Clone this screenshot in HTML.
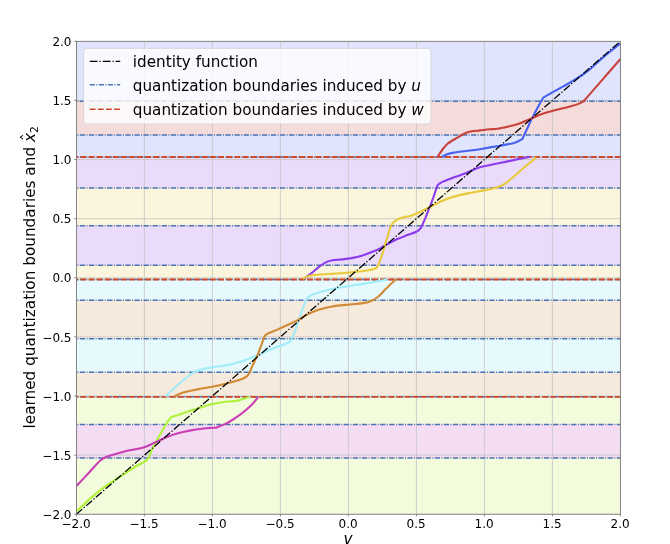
<!DOCTYPE html>
<html lang="en"><head><meta charset="utf-8"><title>quantization boundaries</title>
<style>html,body{margin:0;padding:0;background:#fff}svg{display:block}text{font-family:"DejaVu Sans","Liberation Sans",sans-serif;fill:#000}</style></head><body>
<svg width="670" height="544" viewBox="0 0 670 544">
<rect width="670" height="544" fill="#fff"/>
<defs><clipPath id="c"><rect x="76.4" y="41.3" width="544.0" height="472.95"/></clipPath></defs>
<g clip-path="url(#c)">
<rect x="76.4" y="41.30" width="544.0" height="59.83" fill="#e0e4fc"/>
<rect x="76.4" y="101.13" width="544.0" height="33.82" fill="#f4dcdc"/>
<rect x="76.4" y="134.94" width="544.0" height="21.99" fill="#e0e4fc"/>
<rect x="76.4" y="156.94" width="544.0" height="30.98" fill="#eadbfb"/>
<rect x="76.4" y="187.91" width="544.0" height="37.84" fill="#faf5dc"/>
<rect x="76.4" y="225.75" width="544.0" height="39.61" fill="#eadbfb"/>
<rect x="76.4" y="265.36" width="544.0" height="14.07" fill="#faf5dc"/>
<rect x="76.4" y="279.43" width="544.0" height="20.81" fill="#e6fafe"/>
<rect x="76.4" y="300.24" width="544.0" height="38.55" fill="#f6eadc"/>
<rect x="76.4" y="338.79" width="544.0" height="33.58" fill="#e6fafe"/>
<rect x="76.4" y="372.37" width="544.0" height="24.48" fill="#f6eadc"/>
<rect x="76.4" y="396.84" width="544.0" height="27.55" fill="#f2fcdc"/>
<rect x="76.4" y="424.39" width="544.0" height="33.70" fill="#f4dcf2"/>
<rect x="76.4" y="458.09" width="544.0" height="56.16" fill="#f2fcdc"/>
<line x1="76.40" x2="76.40" y1="41.3" y2="514.25" stroke="#c4c4c4" stroke-width="0.8"/>
<line y1="514.25" y2="514.25" x1="76.4" x2="620.4" stroke="#c4c4c4" stroke-width="0.8"/>
<line x1="144.40" x2="144.40" y1="41.3" y2="514.25" stroke="#c4c4c4" stroke-width="0.8"/>
<line y1="455.13" y2="455.13" x1="76.4" x2="620.4" stroke="#c4c4c4" stroke-width="0.8"/>
<line x1="212.40" x2="212.40" y1="41.3" y2="514.25" stroke="#c4c4c4" stroke-width="0.8"/>
<line y1="396.01" y2="396.01" x1="76.4" x2="620.4" stroke="#c4c4c4" stroke-width="0.8"/>
<line x1="280.40" x2="280.40" y1="41.3" y2="514.25" stroke="#c4c4c4" stroke-width="0.8"/>
<line y1="336.89" y2="336.89" x1="76.4" x2="620.4" stroke="#c4c4c4" stroke-width="0.8"/>
<line x1="348.40" x2="348.40" y1="41.3" y2="514.25" stroke="#c4c4c4" stroke-width="0.8"/>
<line y1="277.77" y2="277.77" x1="76.4" x2="620.4" stroke="#c4c4c4" stroke-width="0.8"/>
<line x1="416.40" x2="416.40" y1="41.3" y2="514.25" stroke="#c4c4c4" stroke-width="0.8"/>
<line y1="218.66" y2="218.66" x1="76.4" x2="620.4" stroke="#c4c4c4" stroke-width="0.8"/>
<line x1="484.40" x2="484.40" y1="41.3" y2="514.25" stroke="#c4c4c4" stroke-width="0.8"/>
<line y1="159.54" y2="159.54" x1="76.4" x2="620.4" stroke="#c4c4c4" stroke-width="0.8"/>
<line x1="552.40" x2="552.40" y1="41.3" y2="514.25" stroke="#c4c4c4" stroke-width="0.8"/>
<line y1="100.42" y2="100.42" x1="76.4" x2="620.4" stroke="#c4c4c4" stroke-width="0.8"/>
<line x1="620.40" x2="620.40" y1="41.3" y2="514.25" stroke="#c4c4c4" stroke-width="0.8"/>
<line y1="41.30" y2="41.30" x1="76.4" x2="620.4" stroke="#c4c4c4" stroke-width="0.8"/>
<line x1="76.4" x2="620.4" y1="101.13" y2="101.13" stroke="#4c72b0" stroke-width="1.5" stroke-dasharray="5.3 1.4 1.0 1.4" stroke-dashoffset="5.7"/>
<line x1="76.4" x2="620.4" y1="134.94" y2="134.94" stroke="#4c72b0" stroke-width="1.5" stroke-dasharray="5.3 1.4 1.0 1.4" stroke-dashoffset="5.7"/>
<line x1="76.4" x2="620.4" y1="156.94" y2="156.94" stroke="#4c72b0" stroke-width="1.5" stroke-dasharray="5.3 1.4 1.0 1.4" stroke-dashoffset="5.7"/>
<line x1="76.4" x2="620.4" y1="187.91" y2="187.91" stroke="#4c72b0" stroke-width="1.5" stroke-dasharray="5.3 1.4 1.0 1.4" stroke-dashoffset="5.7"/>
<line x1="76.4" x2="620.4" y1="225.75" y2="225.75" stroke="#4c72b0" stroke-width="1.5" stroke-dasharray="5.3 1.4 1.0 1.4" stroke-dashoffset="5.7"/>
<line x1="76.4" x2="620.4" y1="265.36" y2="265.36" stroke="#4c72b0" stroke-width="1.5" stroke-dasharray="5.3 1.4 1.0 1.4" stroke-dashoffset="5.7"/>
<line x1="76.4" x2="620.4" y1="279.43" y2="279.43" stroke="#4c72b0" stroke-width="1.5" stroke-dasharray="5.3 1.4 1.0 1.4" stroke-dashoffset="5.7"/>
<line x1="76.4" x2="620.4" y1="300.24" y2="300.24" stroke="#4c72b0" stroke-width="1.5" stroke-dasharray="5.3 1.4 1.0 1.4" stroke-dashoffset="5.7"/>
<line x1="76.4" x2="620.4" y1="338.79" y2="338.79" stroke="#4c72b0" stroke-width="1.5" stroke-dasharray="5.3 1.4 1.0 1.4" stroke-dashoffset="5.7"/>
<line x1="76.4" x2="620.4" y1="372.37" y2="372.37" stroke="#4c72b0" stroke-width="1.5" stroke-dasharray="5.3 1.4 1.0 1.4" stroke-dashoffset="5.7"/>
<line x1="76.4" x2="620.4" y1="396.84" y2="396.84" stroke="#4c72b0" stroke-width="1.5" stroke-dasharray="5.3 1.4 1.0 1.4" stroke-dashoffset="5.7"/>
<line x1="76.4" x2="620.4" y1="424.39" y2="424.39" stroke="#4c72b0" stroke-width="1.5" stroke-dasharray="5.3 1.4 1.0 1.4" stroke-dashoffset="5.7"/>
<line x1="76.4" x2="620.4" y1="458.09" y2="458.09" stroke="#4c72b0" stroke-width="1.5" stroke-dasharray="5.3 1.4 1.0 1.4" stroke-dashoffset="5.7"/>
<line x1="76.4" x2="620.4" y1="156.94" y2="156.94" stroke="#d04a2a" stroke-width="1.9" stroke-dasharray="5.8 2.3" stroke-dashoffset="4"/>
<line x1="76.4" x2="620.4" y1="279.43" y2="279.43" stroke="#d04a2a" stroke-width="1.9" stroke-dasharray="5.8 2.3" stroke-dashoffset="4"/>
<line x1="76.4" x2="620.4" y1="396.84" y2="396.84" stroke="#d04a2a" stroke-width="1.9" stroke-dasharray="5.8 2.3" stroke-dashoffset="4"/>
<path d="M441.80,157.00C442.58,156.60 444.73,155.28 446.50,154.60C448.27,153.92 449.93,153.42 452.40,152.90C454.87,152.38 457.57,151.98 461.30,151.50C465.03,151.02 471.07,150.48 474.80,150.00C478.53,149.52 481.17,149.03 483.70,148.60C486.23,148.17 487.28,147.88 490.00,147.40C492.72,146.92 495.85,146.48 500.00,145.70C504.15,144.92 511.17,143.82 514.90,142.70C518.63,141.58 521.15,139.62 522.40,139.00C523.15,137.38 525.28,132.78 526.90,129.30C528.52,125.82 530.12,122.08 532.10,118.10C534.08,114.12 536.93,108.82 538.80,105.40C540.67,101.98 542.55,98.90 543.30,97.60C544.30,97.03 546.07,96.02 549.30,94.20C552.53,92.38 558.43,89.12 562.70,86.70C566.97,84.28 570.85,82.22 574.90,79.70C578.95,77.18 582.97,74.73 587.00,71.60C591.03,68.47 595.07,64.37 599.10,60.90C603.13,57.43 607.63,53.72 611.20,50.80C614.77,47.88 618.95,44.63 620.50,43.40" fill="none" stroke="#4862f2" stroke-width="2.1" stroke-linejoin="round" stroke-linecap="butt"/>
<path d="M437.50,157.00C438.33,155.75 440.77,151.75 442.50,149.50C444.23,147.25 445.50,145.43 447.90,143.50C450.30,141.57 454.37,139.43 456.90,137.90C459.43,136.37 461.32,135.25 463.10,134.30C464.88,133.35 466.10,132.70 467.60,132.20C469.10,131.70 470.02,131.60 472.10,131.30C474.18,131.00 477.12,130.73 480.10,130.40C483.08,130.07 487.08,129.58 490.00,129.30C492.92,129.02 494.20,129.25 497.60,128.70C501.00,128.15 506.77,126.85 510.40,126.00C514.03,125.15 515.78,124.92 519.40,123.60C523.02,122.28 527.87,119.85 532.10,118.10C536.33,116.35 540.20,114.60 544.80,113.10C549.40,111.60 555.23,110.27 559.70,109.10C564.17,107.93 568.37,107.02 571.60,106.10C574.83,105.18 577.10,104.42 579.10,103.60C581.10,102.78 582.85,101.60 583.60,101.20C585.00,99.60 589.18,94.82 592.00,91.60C594.82,88.38 595.75,87.30 600.50,81.85C605.25,76.40 617.17,62.72 620.50,58.90" fill="none" stroke="#c9423c" stroke-width="2.1" stroke-linejoin="round" stroke-linecap="butt"/>
<path d="M304.20,278.60C305.32,277.77 308.28,275.68 310.90,273.60C313.52,271.52 317.17,268.10 319.90,266.10C322.63,264.10 325.07,262.60 327.30,261.60C329.53,260.60 330.82,260.47 333.30,260.10C335.78,259.73 338.97,259.77 342.20,259.40C345.43,259.03 349.47,258.52 352.70,257.90C355.93,257.28 358.62,256.62 361.60,255.70C364.58,254.78 367.70,253.52 370.60,252.40C373.50,251.28 376.62,250.15 379.00,249.00C381.38,247.85 381.92,247.12 384.90,245.50C387.88,243.88 393.17,241.03 396.90,239.30C400.63,237.57 404.07,236.35 407.30,235.10C410.53,233.85 414.07,232.97 416.30,231.80C418.53,230.63 419.22,230.33 420.70,228.10C422.18,225.87 423.70,221.88 425.20,218.40C426.70,214.92 428.40,210.52 429.70,207.20C431.00,203.88 431.95,201.42 433.00,198.50C434.05,195.58 435.18,191.97 436.00,189.70C436.82,187.43 436.83,186.20 437.90,184.90C438.97,183.60 439.92,183.08 442.40,181.90C444.88,180.72 449.07,179.18 452.80,177.80C456.53,176.42 461.07,175.05 464.80,173.60C468.53,172.15 472.22,170.27 475.20,169.10C478.18,167.93 479.47,167.45 482.70,166.60C485.93,165.75 490.62,164.83 494.60,164.00C498.58,163.17 502.37,162.47 506.60,161.60C510.83,160.73 516.10,159.60 520.00,158.80C523.90,158.00 528.33,157.13 530.00,156.80" fill="none" stroke="#8c3cec" stroke-width="2.1" stroke-linejoin="round" stroke-linecap="butt"/>
<path d="M302.70,278.80C303.82,278.30 306.53,276.50 309.40,275.80C312.27,275.10 315.67,274.97 319.90,274.60C324.13,274.23 329.83,273.95 334.80,273.60C339.77,273.25 345.23,272.88 349.70,272.50C354.17,272.12 357.87,271.78 361.60,271.30C365.33,270.82 369.60,270.22 372.10,269.60C374.60,268.98 375.48,268.55 376.60,267.60C377.72,266.65 377.82,266.27 378.80,263.90C379.78,261.53 381.48,256.52 382.50,253.40C383.52,250.28 383.75,249.05 384.90,245.20C386.05,241.35 388.15,233.90 389.40,230.30C390.65,226.70 391.15,225.38 392.40,223.60C393.65,221.82 395.17,220.60 396.90,219.60C398.63,218.60 400.32,218.30 402.80,217.60C405.28,216.90 408.82,216.40 411.80,215.40C414.78,214.40 417.72,212.97 420.70,211.60C423.68,210.23 426.47,208.82 429.70,207.20C432.93,205.58 436.38,203.57 440.10,201.90C443.82,200.23 447.38,198.62 452.00,197.20C456.62,195.78 462.43,194.53 467.80,193.40C473.17,192.27 479.48,191.38 484.20,190.40C488.92,189.42 492.87,188.48 496.10,187.50C499.33,186.52 500.87,186.12 503.60,184.50C506.33,182.88 509.77,180.05 512.50,177.80C515.23,175.55 517.42,173.27 520.00,171.00C522.58,168.73 525.29,166.48 528.00,164.20C530.71,161.92 534.88,158.45 536.25,157.30" fill="none" stroke="#e8c83c" stroke-width="2.1" stroke-linejoin="round" stroke-linecap="butt"/>
<path d="M165.20,396.50C166.82,395.00 171.53,390.50 174.90,387.50C178.27,384.50 182.53,380.87 185.40,378.50C188.27,376.13 189.87,374.67 192.10,373.30C194.33,371.93 195.45,371.30 198.80,370.30C202.15,369.30 207.47,368.17 212.20,367.30C216.93,366.43 222.72,365.97 227.20,365.10C231.68,364.23 235.37,363.22 239.10,362.10C242.83,360.98 246.47,359.60 249.60,358.40C252.73,357.20 254.52,356.35 257.90,354.90C261.28,353.45 265.92,351.32 269.90,349.70C273.88,348.08 278.82,346.32 281.80,345.20C284.78,344.08 286.32,343.75 287.80,343.00C289.28,342.25 289.47,342.82 290.70,340.70C291.93,338.58 293.70,334.27 295.20,330.30C296.70,326.33 298.20,321.13 299.70,316.90C301.20,312.67 302.95,308.02 304.20,304.90C305.45,301.78 306.08,299.82 307.20,298.20C308.32,296.58 308.78,296.20 310.90,295.20C313.02,294.20 315.92,293.32 319.90,292.20C323.88,291.08 329.83,289.53 334.80,288.50C339.77,287.47 344.73,286.82 349.70,286.00C354.67,285.18 359.62,284.43 364.60,283.60C369.58,282.77 375.87,281.68 379.60,281.00C383.33,280.32 385.77,279.75 387.00,279.50" fill="none" stroke="#a0ecf8" stroke-width="2.1" stroke-linejoin="round" stroke-linecap="butt"/>
<path d="M174.20,396.50C175.57,395.87 178.55,393.88 182.40,392.70C186.25,391.52 192.33,390.40 197.30,389.40C202.27,388.40 207.47,387.65 212.20,386.70C216.93,385.75 221.22,384.82 225.70,383.70C230.18,382.58 235.87,381.03 239.10,380.00C242.33,378.97 243.48,378.50 245.10,377.50C246.72,376.50 247.57,375.95 248.80,374.00C250.03,372.05 250.98,369.10 252.50,365.80C254.02,362.50 256.25,358.13 257.90,354.20C259.55,350.27 261.28,345.18 262.40,342.20C263.52,339.22 263.73,337.73 264.60,336.30C265.47,334.87 265.48,334.72 267.60,333.60C269.72,332.48 273.68,331.15 277.30,329.60C280.92,328.05 285.82,325.92 289.30,324.30C292.78,322.68 295.22,321.52 298.20,319.90C301.18,318.28 303.82,316.28 307.20,314.60C310.58,312.92 314.37,311.15 318.50,309.80C322.63,308.45 326.80,307.38 332.00,306.50C337.20,305.62 344.77,305.02 349.70,304.50C354.63,303.98 358.12,303.95 361.60,303.40C365.08,302.85 367.85,302.32 370.60,301.20C373.35,300.08 375.62,298.68 378.10,296.70C380.58,294.72 383.52,291.28 385.50,289.30C387.48,287.32 388.25,286.47 390.00,284.80C391.75,283.13 395.00,280.22 396.00,279.30" fill="none" stroke="#d08a34" stroke-width="2.1" stroke-linejoin="round" stroke-linecap="butt"/>
<path d="M76.40,511.60C78.82,509.32 86.48,501.80 90.90,497.90C95.32,494.00 99.17,491.02 102.90,488.20C106.63,485.38 109.57,483.48 113.30,481.00C117.03,478.52 121.57,475.72 125.30,473.30C129.03,470.88 132.35,468.52 135.70,466.50C139.05,464.48 143.28,462.63 145.40,461.20C147.52,459.77 147.23,459.93 148.40,457.90C149.57,455.87 150.48,452.85 152.40,449.00C154.32,445.15 157.42,439.28 159.90,434.80C162.38,430.32 165.45,425.03 167.30,422.10C169.15,419.17 170.38,418.02 171.00,417.20C172.62,416.65 176.58,415.25 180.70,413.90C184.82,412.55 190.72,410.65 195.70,409.10C200.68,407.55 206.13,405.75 210.60,404.60C215.07,403.45 218.05,402.87 222.50,402.20C226.95,401.53 232.84,401.47 237.30,400.60C241.76,399.73 247.26,397.60 249.25,397.00" fill="none" stroke="#aef23c" stroke-width="2.1" stroke-linejoin="round" stroke-linecap="butt"/>
<path d="M76.40,486.10C78.57,483.78 85.37,476.50 89.40,472.20C93.43,467.90 97.48,462.95 100.60,460.30C103.72,457.65 104.23,457.73 108.10,456.30C111.97,454.87 117.92,453.17 123.80,451.70C129.68,450.23 138.38,448.95 143.40,447.50C148.42,446.05 150.17,444.67 153.90,443.00C157.63,441.33 161.82,439.12 165.80,437.50C169.78,435.88 173.82,434.45 177.80,433.30C181.78,432.15 185.73,431.35 189.70,430.60C193.67,429.85 197.12,429.30 201.60,428.80C206.08,428.30 214.10,427.80 216.60,427.60C217.58,427.18 220.29,426.12 222.50,425.10C224.71,424.08 226.63,423.47 229.85,421.50C233.07,419.53 238.33,415.92 241.80,413.30C245.28,410.68 247.97,408.48 250.70,405.80C253.43,403.12 256.95,398.63 258.20,397.20" fill="none" stroke="#c93fb3" stroke-width="2.1" stroke-linejoin="round" stroke-linecap="butt"/>
<line x1="76.4" y1="514.25" x2="620.4" y2="41.3" stroke="#000" stroke-width="1.3" stroke-dasharray="7.8 1.95 1.22 1.95"/>
</g>
<rect x="76.4" y="41.3" width="544.0" height="472.95" fill="none" stroke="#6e6e6e" stroke-width="0.8"/>
<line x1="76.40" x2="76.40" y1="514.25" y2="516.45" stroke="#6e6e6e" stroke-width="0.8"/>
<line y1="514.25" y2="514.25" x1="74.2" x2="76.4" stroke="#6e6e6e" stroke-width="0.8"/>
<text x="76.10" y="527.7" font-size="12" text-anchor="middle">−2.0</text>
<text x="71.5" y="518.95" font-size="12" text-anchor="end">−2.0</text>
<line x1="144.40" x2="144.40" y1="514.25" y2="516.45" stroke="#6e6e6e" stroke-width="0.8"/>
<line y1="455.13" y2="455.13" x1="74.2" x2="76.4" stroke="#6e6e6e" stroke-width="0.8"/>
<text x="144.10" y="527.7" font-size="12" text-anchor="middle">−1.5</text>
<text x="71.5" y="459.83" font-size="12" text-anchor="end">−1.5</text>
<line x1="212.40" x2="212.40" y1="514.25" y2="516.45" stroke="#6e6e6e" stroke-width="0.8"/>
<line y1="396.01" y2="396.01" x1="74.2" x2="76.4" stroke="#6e6e6e" stroke-width="0.8"/>
<text x="212.10" y="527.7" font-size="12" text-anchor="middle">−1.0</text>
<text x="71.5" y="400.71" font-size="12" text-anchor="end">−1.0</text>
<line x1="280.40" x2="280.40" y1="514.25" y2="516.45" stroke="#6e6e6e" stroke-width="0.8"/>
<line y1="336.89" y2="336.89" x1="74.2" x2="76.4" stroke="#6e6e6e" stroke-width="0.8"/>
<text x="280.10" y="527.7" font-size="12" text-anchor="middle">−0.5</text>
<text x="71.5" y="341.59" font-size="12" text-anchor="end">−0.5</text>
<line x1="348.40" x2="348.40" y1="514.25" y2="516.45" stroke="#6e6e6e" stroke-width="0.8"/>
<line y1="277.77" y2="277.77" x1="74.2" x2="76.4" stroke="#6e6e6e" stroke-width="0.8"/>
<text x="348.10" y="527.7" font-size="12" text-anchor="middle">0.0</text>
<text x="71.5" y="282.47" font-size="12" text-anchor="end">0.0</text>
<line x1="416.40" x2="416.40" y1="514.25" y2="516.45" stroke="#6e6e6e" stroke-width="0.8"/>
<line y1="218.66" y2="218.66" x1="74.2" x2="76.4" stroke="#6e6e6e" stroke-width="0.8"/>
<text x="416.10" y="527.7" font-size="12" text-anchor="middle">0.5</text>
<text x="71.5" y="223.36" font-size="12" text-anchor="end">0.5</text>
<line x1="484.40" x2="484.40" y1="514.25" y2="516.45" stroke="#6e6e6e" stroke-width="0.8"/>
<line y1="159.54" y2="159.54" x1="74.2" x2="76.4" stroke="#6e6e6e" stroke-width="0.8"/>
<text x="484.10" y="527.7" font-size="12" text-anchor="middle">1.0</text>
<text x="71.5" y="164.24" font-size="12" text-anchor="end">1.0</text>
<line x1="552.40" x2="552.40" y1="514.25" y2="516.45" stroke="#6e6e6e" stroke-width="0.8"/>
<line y1="100.42" y2="100.42" x1="74.2" x2="76.4" stroke="#6e6e6e" stroke-width="0.8"/>
<text x="552.10" y="527.7" font-size="12" text-anchor="middle">1.5</text>
<text x="71.5" y="105.12" font-size="12" text-anchor="end">1.5</text>
<line x1="620.40" x2="620.40" y1="514.25" y2="516.45" stroke="#6e6e6e" stroke-width="0.8"/>
<line y1="41.30" y2="41.30" x1="74.2" x2="76.4" stroke="#6e6e6e" stroke-width="0.8"/>
<text x="620.10" y="527.7" font-size="12" text-anchor="middle">2.0</text>
<text x="71.5" y="46.00" font-size="12" text-anchor="end">2.0</text>
<text x="347.90" y="544.2" font-size="15.27" font-style="oblique" text-anchor="middle">v</text>
<g transform="translate(35.2 277.77) rotate(-90)">
<text id="yl" x="-150.7" y="0" font-size="15.27">learned quantization boundaries and <tspan font-style="oblique">x</tspan><tspan font-size="10.7" dy="2.6">2</tspan></text>
<text id="hat" x="140.6" y="-2.0" font-size="15.27" text-anchor="middle">ˆ</text>
</g>
<rect x="83.6" y="48.4" width="347.3" height="75.5" rx="3" ry="3" fill="#fff" fill-opacity="0.8" stroke="#ccc" stroke-opacity="0.8" stroke-width="0.8"/>
<line x1="89.8" x2="120.2" y1="61.4" y2="61.4" stroke="#000" stroke-width="1.3" stroke-dasharray="7.8 1.95 1.22 1.95"/>
<line x1="89.8" x2="120.2" y1="84.7" y2="84.7" stroke="#4c72b0" stroke-width="1.6" stroke-dasharray="5.0 1.5 1.1 1.5"/>
<line x1="89.8" x2="120.2" y1="109.2" y2="109.2" stroke="#d04a2a" stroke-width="1.6" stroke-dasharray="5.8 2.3"/>
<text x="132.8" y="67.3" font-size="15.22">identity function</text>
<text x="132.8" y="90.6" font-size="15.22">quantization boundaries induced by <tspan font-style="oblique">u</tspan></text>
<text x="132.8" y="114.9" font-size="15.22">quantization boundaries induced by <tspan font-style="oblique">w</tspan></text>
</svg></body></html>
